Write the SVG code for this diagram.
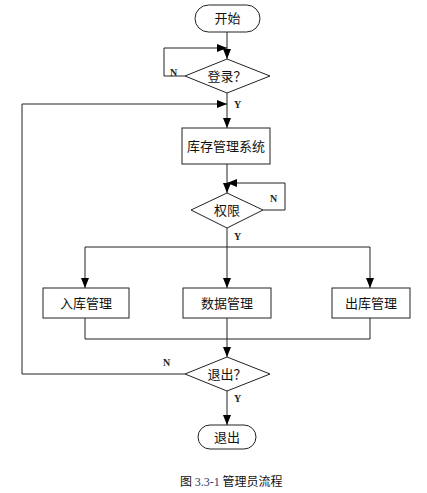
<svg xmlns="http://www.w3.org/2000/svg" width="427" height="493" viewBox="0 0 427 493">
<style>
.s{fill:#fff;stroke:#222;stroke-width:1}
.c{fill:none;stroke:#222;stroke-width:1}
.t{font-family:"Noto Sans CJK SC","Liberation Sans",sans-serif;font-size:13px;fill:#111;text-anchor:middle}
.yn{font-family:"Liberation Serif",serif;font-size:10px;font-weight:bold;fill:#222}
.cap{font-family:"Noto Sans CJK SC","Liberation Sans",sans-serif;font-size:12px;fill:#111}
</style>
<defs>
<marker id="a" viewBox="0 0 10 8" refX="10" refY="4" markerWidth="10" markerHeight="8" markerUnits="userSpaceOnUse" orient="auto">
<path d="M0,0 L10,4 L0,8 Z" fill="#000"/>
</marker>
</defs>
<rect width="427" height="493" fill="#fff"/>
<g id="connectors">
<path class="c" d="M227,32 V59" marker-end="url(#a)"/>
<path class="c" d="M185,76 H164 V48 H227" marker-end="url(#a)"/>
<path class="c" d="M227,93 V128" marker-end="url(#a)"/>
<path class="c" d="M185,374 H22 V104 H227" marker-end="url(#a)"/>
<path class="c" d="M227,164 V193" marker-end="url(#a)"/>
<path class="c" d="M263,210 H285 V183 H227" marker-end="url(#a)"/>
<path class="c" d="M227,228 V288" marker-end="url(#a)"/>
<path class="c" d="M85,247 H370"/>
<path class="c" d="M85,247 V288" marker-end="url(#a)"/>
<path class="c" d="M370,247 V288" marker-end="url(#a)"/>
<path class="c" d="M85,318 V339 H370 V318"/>
<path class="c" d="M227,318 V357" marker-end="url(#a)"/>
<path class="c" d="M227,391 V425" marker-end="url(#a)"/>
<text class="yn" x="170" y="76">N</text>
<text class="yn" x="234" y="108">Y</text>
<text class="yn" x="270" y="202">N</text>
<text class="yn" x="234" y="240">Y</text>
<text class="yn" x="163" y="366">N</text>
<text class="yn" x="234" y="402">Y</text>
</g>
<g id="start"><rect class="s" x="195" y="5" width="65" height="27" rx="13.5"/><text class="t" x="227.5" y="23">开始</text></g>
<g id="login"><path class="s" d="M227,59 L270,76 L227,93 L185,76 Z"/><text class="t" x="227" y="81">登录？</text></g>
<g id="system"><rect class="s" x="182" y="128" width="88" height="36"/><text class="t" x="226" y="151">库存管理系统</text></g>
<g id="perm"><path class="s" d="M227,193 L263,210 L227,228 L191,210 Z"/><text class="t" x="227" y="215">权限</text></g>
<g id="inbound"><rect class="s" x="43" y="288" width="86" height="30"/><text class="t" x="86" y="308">入库管理</text></g>
<g id="data"><rect class="s" x="183" y="288" width="88" height="30"/><text class="t" x="227" y="308">数据管理</text></g>
<g id="outbound"><rect class="s" x="332" y="288" width="78" height="30"/><text class="t" x="371" y="308">出库管理</text></g>
<g id="quitq"><path class="s" d="M227,357 L270,374 L227,391 L185,374 Z"/><text class="t" x="227" y="379">退出？</text></g>
<g id="quit"><rect class="s" x="198" y="425" width="58" height="24" rx="12"/><text class="t" x="227" y="442">退出</text></g>
<text class="cap" x="180" y="486">图 <tspan font-family="Liberation Serif,serif" fill="#2a3a6a">3.3-1</tspan> 管理员流程</text>
</svg>
